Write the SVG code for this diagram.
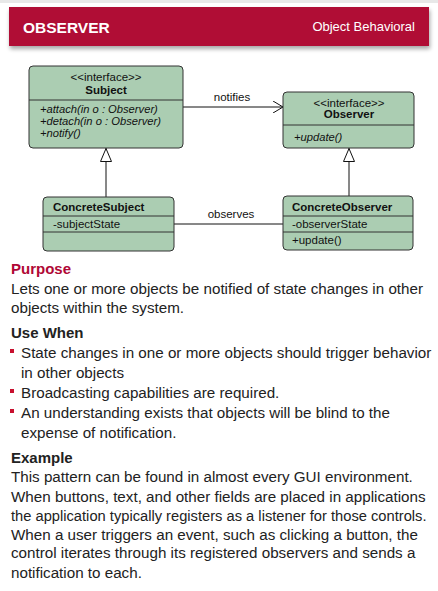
<svg xmlns="http://www.w3.org/2000/svg" width="438" height="591" viewBox="0 0 438 591">
<defs>
<style>
.box{fill:#abcdb2;stroke:#333;stroke-width:1}
.div{stroke:#333;stroke-width:1}
.line{stroke:#111;stroke-width:1;fill:none}
.ut{font-family:"Liberation Sans",Arial,sans-serif;font-size:11.5px;fill:#111}
.b{font-weight:bold}
.i{font-style:italic;font-size:11.2px}
.c{text-anchor:middle}
.tx{font-family:"Liberation Sans",Arial,sans-serif;font-size:15.2px;fill:#222}
.h{font-family:"Liberation Sans",Arial,sans-serif;font-size:15px;font-weight:bold;fill:#222}
.bul{fill:#c8102e}
</style>
<filter id="sh" x="-5%" y="-20%" width="110%" height="160%">
<feGaussianBlur in="SourceAlpha" stdDeviation="2"/>
<feOffset dx="1" dy="3" result="o"/>
<feComponentTransfer><feFuncA type="linear" slope="0.35"/></feComponentTransfer>
<feMerge><feMergeNode/><feMergeNode in="SourceGraphic"/></feMerge>
</filter>
<marker id="open" viewBox="0 0 10 12" refX="10" refY="6" markerWidth="10" markerHeight="12" markerUnits="userSpaceOnUse" orient="auto">
<path d="M0,0 L10,6 L0,12" fill="none" stroke="#111" stroke-width="1"/>
</marker>
<marker id="tri" viewBox="0 0 12 14" refX="6" refY="0" markerWidth="12" markerHeight="14" markerUnits="userSpaceOnUse" orient="0">
<path d="M6,0.5 L11.5,13.5 L0.5,13.5 Z" fill="#fff" stroke="#111" stroke-width="1"/>
</marker>
</defs>
<rect width="438" height="591" fill="#fff"/>
<rect x="0" y="0" width="438" height="3" fill="#e8e8e8"/>
<g id="header">
<rect x="9" y="7" width="420" height="39" fill="#b00735" filter="url(#sh)"/>
<text x="23" y="33" font-family="Liberation Sans,Arial,sans-serif" font-size="15.5" font-weight="bold" fill="#fff">OBSERVER</text>
<text x="415" y="31" font-family="Liberation Sans,Arial,sans-serif" font-size="13" fill="#fff" text-anchor="end">Object Behavioral</text>
</g>
<g id="connectors">
<line class="line" x1="183" y1="107" x2="283" y2="107" marker-end="url(#open)"/>
<text class="ut c" x="232" y="101">notifies</text>
<line class="line" x1="174" y1="224" x2="283" y2="224" marker-start="url(#open)"/>
<text class="ut c" x="231" y="218">observes</text>
<path class="line" d="M106,197 V148" marker-end="url(#tri)"/>
<path class="line" d="M349,196 V148" marker-end="url(#tri)"/>
</g>
<g id="subject">
<rect class="box" x="29" y="66" width="154" height="82" rx="4"/>
<line class="div" x1="29" y1="100" x2="183" y2="100"/>
<text class="ut c" x="106" y="81">&lt;&lt;interface&gt;&gt;</text>
<text class="ut c b" x="106" y="94">Subject</text>
<text class="ut i" x="40" y="113">+attach(in o : Observer)</text>
<text class="ut i" x="40" y="125">+detach(in o : Observer)</text>
<text class="ut i" x="40" y="137">+notify()</text>
</g>
<g id="observer">
<rect class="box" x="283" y="92" width="131" height="56" rx="4"/>
<line class="div" x1="283" y1="125" x2="414" y2="125"/>
<text class="ut c" x="349" y="107">&lt;&lt;interface&gt;&gt;</text>
<text class="ut c b" x="349" y="118">Observer</text>
<text class="ut i" x="294" y="141">+update()</text>
</g>
<g id="concreteSubject">
<rect class="box" x="43" y="197" width="131" height="54" rx="4"/>
<line class="div" x1="43" y1="216" x2="174" y2="216"/>
<line class="div" x1="43" y1="232" x2="174" y2="232"/>
<text class="ut b" x="53" y="211">ConcreteSubject</text>
<text class="ut" x="53" y="228">-subjectState</text>
</g>
<g id="concreteObserver">
<rect class="box" x="283" y="196" width="130" height="54" rx="4"/>
<line class="div" x1="283" y1="216" x2="413" y2="216"/>
<line class="div" x1="283" y1="232" x2="413" y2="232"/>
<text class="ut b" x="292" y="211">ConcreteObserver</text>
<text class="ut" x="292" y="228">-observerState</text>
<text class="ut" x="292" y="244">+update()</text>
</g>
<g id="text">
<text x="11" y="274" font-family="Liberation Sans,Arial,sans-serif" font-size="15" font-weight="bold" fill="#b00735">Purpose</text>
<text class="tx" x="11" y="294">Lets one or more objects be notified of state changes in other</text>
<text class="tx" x="11" y="313">objects within the system.</text>
<text class="h" x="11" y="338">Use When</text>
<rect class="bul" x="10" y="349" width="4" height="4"/>
<text class="tx" x="21" y="358">State changes in one or more objects should trigger behavior</text>
<text class="tx" x="21" y="378">in other objects</text>
<rect class="bul" x="10" y="389" width="4" height="4"/>
<text class="tx" x="21" y="398">Broadcasting capabilities are required.</text>
<rect class="bul" x="10" y="409" width="4" height="4"/>
<text class="tx" x="21" y="418">An understanding exists that objects will be blind to the</text>
<text class="tx" x="21" y="438">expense of notification.</text>
<text class="h" x="11" y="463">Example</text>
<text class="tx" x="11" y="482">This pattern can be found in almost every GUI environment.</text>
<text class="tx" x="11" y="502">When buttons, text, and other fields are placed in applications</text>
<text class="tx" x="11" y="521" style="font-size:14.7px">the application typically registers as a listener for those controls.</text>
<text class="tx" x="11" y="540">When a user triggers an event, such as clicking a button, the</text>
<text class="tx" x="11" y="558">control iterates through its registered observers and sends a</text>
<text class="tx" x="11" y="578">notification to each.</text>
</g>
</svg>
